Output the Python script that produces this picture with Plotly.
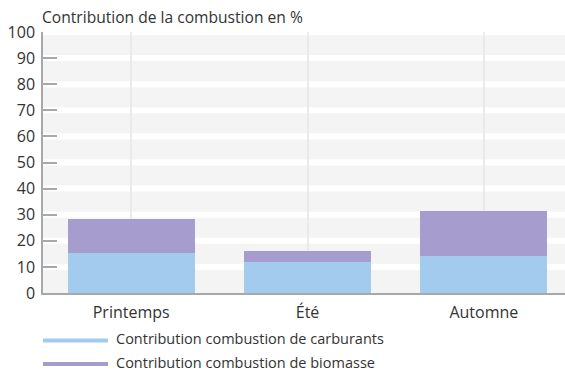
import plotly.graph_objects as go

# Seasons and contribution of each combustion source (%)
saisons = ["Printemps", "Été", "Automne"]
carburants = [15.2, 11.7, 14.0]
biomasse = [13.0, 4.3, 17.3]
noms = ["Contribution combustion de carburants", "Contribution combustion de biomasse"]
couleurs = ["#a3cbee", "#a69ccd"]
y_ticks = list(range(0, 101, 10))

FONT = "Open Sans"
TXT = "#333333"

fig = go.Figure()
for vals, nom, col in zip([carburants, biomasse], noms, couleurs):
    fig.add_trace(go.Bar(x=saisons, y=vals, name=nom, marker=dict(color=col, line=dict(width=0)),
                         width=0.72, showlegend=False))

# white separators between the grey bands (drawn under the grid)
for t in y_ticks[1:]:
    fig.add_shape(type="rect", xref="paper", yref="y", x0=0, x1=1, y0=t - 1.15, y1=min(t + 1.15, 100),
                  fillcolor="white", line=dict(width=0), layer="below")

# legend drawn as long line swatches
for i, (nom, col) in enumerate(zip(noms, couleurs)):
    yp = 338.5 + 23.5 * i
    fig.add_shape(type="line", xref="paper", yref="paper",
                  x0=0, x1=(108 - 43) / 522,
                  y0=(292.6 - yp - 1.5) / 260.6, y1=(292.6 - yp - 1.5) / 260.6,
                  line=dict(color=col, width=4))
    fig.add_annotation(text=nom, xref="paper", yref="paper", x=(115 - 43) / 522,
                       y=(292.6 - yp) / 260.6, xanchor="left", yanchor="middle", borderpad=0,
                       showarrow=False, font=dict(family=FONT, size=14.5, color=TXT))

fig.add_annotation(text="Contribution de la combustion en %", xref="paper", yref="paper",
                   x=(40 - 43) / 522, y=(292.6 - 17) / 260.6, xanchor="left", yanchor="middle",
                   showarrow=False, font=dict(family=FONT, size=15.6, color=TXT))

fig.update_layout(
    width=565, height=372,
    margin=dict(l=43, r=0, t=32, b=79.4),
    barmode="stack", bargap=0.28,
    paper_bgcolor="white", plot_bgcolor="#f4f4f4",
    font=dict(family=FONT, size=15, color=TXT),
    xaxis=dict(range=[-0.5, 2.46], showgrid=True, gridcolor="#eaeaea", gridwidth=1.5,
               showline=True, linecolor="#a8a8a8",
               linewidth=1.5, ticks="", tickfont=dict(size=16, color=TXT), ticklabelstandoff=4),
    yaxis=dict(range=[0, 100], tickvals=y_ticks, showgrid=False,
               zeroline=False, showline=True, linecolor="#a8a8a8", linewidth=1.5,
               ticks="inside", ticklen=14, tickcolor="#a8a8a8", tickwidth=1.5,
               tickfont=dict(size=16, color=TXT), ticklabelstandoff=3),
)

fig.write_html("out.html")
